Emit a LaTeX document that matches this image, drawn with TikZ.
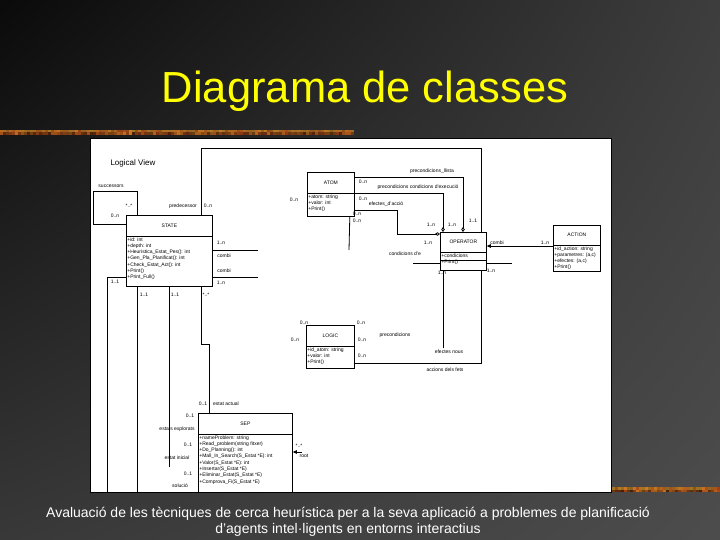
\documentclass[tikz,border=0pt]{standalone}
\usepackage{fontspec}
\setmainfont{Liberation Sans}
\usetikzlibrary{calc,arrows.meta,shadings}
\definecolor{titleyellow}{HTML}{FFFF00}
\definecolor{barA}{HTML}{D27C22}
\definecolor{barB}{HTML}{8E2C12}
\definecolor{barC}{HTML}{7E7A2A}
\newcommand*{\umlfont}{\fontsize{5}{6}\selectfont}
\newcommand{\umlclass}[8]{%
% node name, left x, top y, width, height, name height, title, members
  \node[classbox, minimum width=#4, minimum height=#5, anchor=north west]
    (#1) at (#2,#3) {};
  \draw[assoc] ([yshift=-#6]#1.north west) -- ([yshift=-#6]#1.north east);
  \node[umltxt] (#1-name) at ([yshift=-#6/2]#1.north) {#7};
  \node[members] (#1-list) at ([yshift=-#6]#1.north west) {#8};
}
\newcommand{\texbar}[3]{%
% left x, top y, number of cells
  \foreach \i in {0,...,#3}{
    \pgfmathsetmacro{\ma}{int(20+rnd*80)}
    \pgfmathsetmacro{\mb}{int(45+rnd*55)}
    \pgfmathsetmacro{\mc}{int(20+rnd*80)}
    \fill[barA!\ma!barB!\mb!barC] (#1+\i*3,#2) rectangle ++(3,2.5);
    \fill[barA!\mc!barB!\mb!black] (#1+\i*3,#2+2.5) rectangle ++(3,2.5);
  }
}
\tikzset{
  classbox/.style = {draw, line width=0.8pt, fill=white, inner sep=0pt},
  umltxt/.style = {font=\umlfont, inner sep=0.5pt},
  members/.style = {umltxt, align=left, anchor=north west,
    font=\fontsize{5}{6.3}\selectfont, inner sep=1.2pt},
  lbl/.style = {umltxt},
  assoc/.style = {line width=0.8pt},
  aggr/.style = {assoc, {Diamond[open, length=5pt, width=3.5pt]}-},
  navig/.style = {assoc, {Triangle[length=4pt, width=3.5pt]}-},
}
\begin{document}
\begin{tikzpicture}[x=1pt, y=-1pt]
  \useasboundingbox (0,0) rectangle (720,540);
  \shade[upper left=black!96, upper right=black!76, lower left=black!78,
    lower right=black!70] (0,0) rectangle (720,540);
  \pgfmathsetseed{11}
  \texbar{0}{130}{117}
  \texbar{612}{487}{35}

  \node[font=\fontsize{43.5}{48}\selectfont, text=titleyellow, anchor=base]
    (title) at (365,103) {Diagrama de classes};

  % the class diagram window
  \draw[line width=0.8pt, fill=white] (90,138) rectangle (611,492);
  \begin{scope}
  \clip (91,139) rectangle (610,491);
  \node[font=\fontsize{8}{9}\selectfont, anchor=west] (view) at (107,163)
    {Logical View};

  \umlclass{STATE}{126}{215}{86}{71}{21}{STATE}{%
    +id: int\\+depth: int\\+Heuristica\_Estat\_Pes(): int\\
    +Gen\_Pla\_Planificat(): int\\+Check\_Estat\_Act(): int\\
    +Print()\\+Print\_Full()}
  \umlclass{ATOM}{307}{172}{47}{44}{21}{ATOM}{%
    +atom: string\\+valor: int\\+Print()}
  \umlclass{OPERATOR}{440}{232}{46}{38}{20}{OPERATOR}{%
    +condicions\\+Print()}
  \draw[assoc] ([yshift=-28]OPERATOR.north west)
    -- ([yshift=-28]OPERATOR.north east);
  \umlclass{ACTION}{553}{225}{47}{46}{20}{ACTION}{%
    +id\_action: string\\+parametres: (a,c)\\+efectes: (a,c)\\+Print()}
  \umlclass{LOGIC}{306}{325}{48}{43}{21}{LOGIC}{%
    +id\_atom: string\\+valor: int\\+Print()}
  \umlclass{SEP}{198}{413}{94}{90}{21}{SEP}{%
    +nameProblem: string\\+Read\_problem(string fitxer)\\
    +Do\_Planning(): int\\+Mall\_In\_Search(S\_Estat *E): int\\
    +Valor(S\_Estat *E): int\\+Insertar(S\_Estat *E)\\
    +Eliminar\_Estat(S\_Estat *E)\\+Comprova\_Fi(S\_Estat *E)}

  % turning points and loose ends
  \coordinate (succ-turn) at (93,191);
  \coordinate (ef-turn) at (397,210);
  \coordinate (ef-nou) at (443,348);
  \coordinate (at-end) at (349,250);
  \coordinate (comb-a) at (258,250);
  \coordinate (comb-b) at (258,277);
  \coordinate (cond-end) at (413,263);
  \coordinate (op-stub) at (512,263);
  \coordinate (root-end) at (302,452);
  \coordinate (expl-end) at (169,467);
  \coordinate (ini-end) at (137,495);
  \coordinate (sol-end) at (107,495);

  % STATE links
  \draw[assoc] ([xshift=11]STATE.north west) |- (succ-turn)
    |- ([yshift=-9]STATE.north west);
  \draw[assoc] ([xshift=75]STATE.north west) -- ++(0,-67)
    -| ([xshift=-5]OPERATOR.north east);
  \draw[assoc] (comb-a -| STATE.east) -- (comb-a);
  \draw[assoc] (comb-b -| STATE.east) -- (comb-b);
  \draw[assoc] ([xshift=75]STATE.south west) -- ++(0,58)
    -| ([xshift=11]SEP.north west);
  \draw[assoc] ([xshift=43]STATE.south west) -- (expl-end);
  \draw[assoc] ([xshift=11]STATE.south west) -- (ini-end);
  \draw[assoc] ([yshift=-62]STATE.north west) -| (sol-end);

  % ATOM to OPERATOR
  \draw[aggr] ([xshift=23]OPERATOR.north west) |- ([yshift=-5]ATOM.north east);
  \draw[aggr] ([xshift=3]OPERATOR.north west) |- ([yshift=-21]ATOM.north east);
  \draw[aggr] ([yshift=-2]OPERATOR.north west) -| (ef-turn)
    -- (ef-turn -| ATOM.east);
  \draw[assoc] ([xshift=-5]ATOM.south east) -- (at-end);

  % OPERATOR links
  \coordinate (op-r) at ([yshift=-14]OPERATOR.north east);
  \draw[navig] (op-r) -- (op-r -| ACTION.west);
  \draw[assoc] (cond-end) -- (cond-end -| OPERATOR.west);
  \draw[assoc] (op-stub -| OPERATOR.east) -- (op-stub);
  \draw[assoc] ([xshift=3]OPERATOR.south west) -- (ef-nou);
  \draw[assoc] ([xshift=-5]OPERATOR.south east) |- ([yshift=5]LOGIC.south east);

  % SEP root
  \draw[navig] ([yshift=-39]SEP.north east) -- (root-end);

  % role names and multiplicities
  \node[lbl] (l-succ) at (111,186) {successors};
  \node[lbl] (l-succ-m1) at (129,206) {*..*};
  \node[lbl] (l-succ-m2) at (115,216) {0..n};
  \node[lbl] (l-pred) at (183,206) {predecessor};
  \node[lbl] (l-pred-m1) at (208,206) {0..n};
  \node[lbl] (l-pred-m2) at (473,221) {1..1};
  \node[lbl] (l-prec1) at (432,171) {precondicions\_llista};
  \node[lbl] (l-prec2) at (418,187) {precondicions condicions d’execució};
  \node[lbl] (l-at-m1) at (363,182) {0..n};
  \node[lbl] (l-at-m2) at (363,199) {0..n};
  \node[lbl] (l-efec) at (386,204) {efectes\_d’acció};
  \node[lbl] (l-at-m3) at (357,214) {0..n};
  \node[lbl] (l-at-m4) at (357,221) {0..n};
  \node[lbl] (l-at-m5) at (294,200) {0..n};
  \node[lbl] (l-op-m1) at (431,225) {1..n};
  \node[lbl] (l-op-m2) at (452,225) {1..n};
  \node[lbl] (l-op-m3) at (428,243) {1..n};
  \node[lbl] (l-cond) at (405,254) {condicions d’e};
  \node[lbl] (l-op-m4) at (442,273) {1..n};
  \node[lbl] (l-op-m5) at (491,271) {1..n};
  \node[lbl] (l-combi) at (497,243) {combi};
  \node[lbl] (l-act-m) at (545,243) {1..n};
  \node[lbl] (l-st-m1) at (221,243) {1..n};
  \node[lbl] (l-st-c1) at (224,256) {combi};
  \node[lbl] (l-st-c2) at (224,271) {combi};
  \node[lbl] (l-st-m2) at (221,283) {1..n};
  \node[lbl] (l-st-m3) at (115,282) {1..1};
  \node[lbl] (l-st-m4) at (144,295) {1..1};
  \node[lbl] (l-st-m5) at (175,295) {1..1};
  \node[lbl] (l-st-m6) at (206,295) {*..*};
  \node[lbl] (l-lg-m1) at (304,323) {0..n};
  \node[lbl] (l-lg-m2) at (295,340) {0..n};
  \node[lbl] (l-lg-m3) at (361,323) {0..n};
  \node[lbl] (l-lg-m4) at (362,340) {0..n};
  \node[lbl] (l-lg-m5) at (362,356) {0..n};
  \node[lbl] (l-lg-prec) at (395,335) {precondicions};
  \node[lbl] (l-efnou) at (449,352) {efectes nous};
  \node[lbl] (l-acc) at (445,370) {accions dels fets};
  \node[lbl] (l-sep-m1) at (203,404) {0..1};
  \node[lbl] (l-actual) at (226,404) {estat actual};
  \node[lbl] (l-sep-m2) at (190,416) {0..1};
  \node[lbl] (l-expl) at (177,429) {estats explorats};
  \node[lbl] (l-sep-m3) at (188,445) {0..1};
  \node[lbl] (l-inicial) at (177,458) {estat inicial};
  \node[lbl] (l-sep-m4) at (188,474) {0..1};
  \node[lbl] (l-sol) at (180,486) {solució};
  \node[lbl] (l-root-m) at (299,446) {*..*};
  \node[lbl] (l-root) at (304,456) {root};
  \end{scope}

  \node[font=\fontsize{14}{16}\selectfont, text=white, align=center, anchor=base]
    (foot) at (348,533) {Avaluació de les tècniques de cerca heurística
    per a la seva aplicació a problemes de planificació\\
    d’agents intel·ligents en entorns interactius};
\end{tikzpicture}
\end{document}
